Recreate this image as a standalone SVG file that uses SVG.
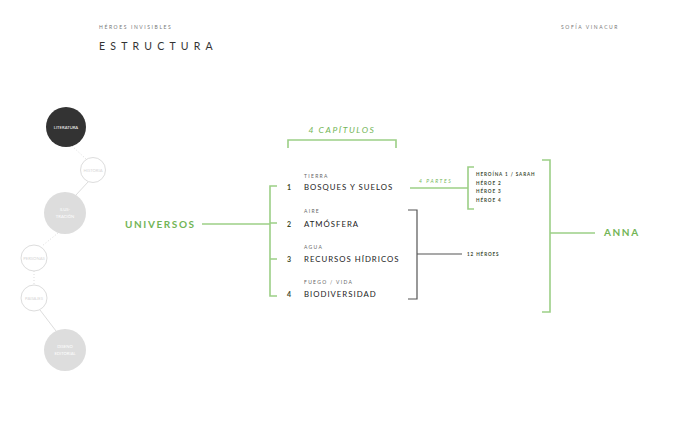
<svg xmlns="http://www.w3.org/2000/svg" width="680" height="425" viewBox="0 0 680 425">
<style>
text{font-family:Lato,"Liberation Sans",sans-serif}
.hd{font-size:5px;letter-spacing:1.6px;fill:#777}
.title{font-size:10.5px;letter-spacing:5.2px;fill:#333}
.g{stroke:#9ccf86;stroke-width:1.6;fill:none}
.d{stroke:#555;stroke-width:1.2;fill:none}
.gt{fill:#72b556;letter-spacing:1.6px}
.sub{font-size:5px;letter-spacing:1.3px;fill:#666}
.main{font-size:7.8px;letter-spacing:1px;fill:#222}
.num{font-size:7px;font-weight:bold;fill:#3e4a28}
.hero{font-size:4.6px;letter-spacing:0.9px;fill:#3b4a32;font-weight:bold}
.ct{font-size:4.2px;fill:#fff;text-anchor:middle}
.co{font-size:4.2px;fill:#d6d6d6;text-anchor:middle}
.cl{stroke:#ddd;stroke-width:1;fill:none}
.cd{stroke:#ddd;stroke-width:1;stroke-dasharray:1 2;fill:none}
</style>
<rect width="680" height="425" fill="#fff"/>
<g id="header">
<text class="hd" x="99" y="29">HÉROES INVISIBLES</text>
<text class="title" x="99" y="50">ESTRUCTURA</text>
<text class="hd" x="561" y="29">SOFÍA VINACUR</text>
</g>
<g id="side-connectors">
<line class="cd" x1="72" y1="146" x2="86" y2="159"/>
<line class="cl" x1="88" y1="182" x2="76" y2="195"/>
<line class="cd" x1="58" y1="233" x2="42" y2="246"/>
<line class="cd" x1="34" y1="271" x2="34" y2="285"/>
<line class="cl" x1="40" y1="310" x2="56" y2="331"/>
</g>
<g id="literatura"><circle cx="66" cy="127" r="20" fill="#333"/><text class="ct" x="66" y="129">LITERATURA</text></g>
<g id="historia"><circle cx="93" cy="170" r="12.5" fill="#fff" stroke="#ddd"/><text class="co" x="93" y="172">HISTORIA</text></g>
<g id="ilustracion"><circle cx="65" cy="213" r="21" fill="#ddd"/><text class="ct" x="65" y="211">ILUS-</text><text class="ct" x="65" y="218">TRACIÓN</text></g>
<g id="personas"><circle cx="34" cy="258" r="13" fill="#fff" stroke="#ddd"/><text class="co" x="34" y="260">PERSONAS</text></g>
<g id="paisajes"><circle cx="34" cy="298" r="13" fill="#fff" stroke="#ddd"/><text class="co" x="34" y="300">PAISAJES</text></g>
<g id="diseno"><circle cx="65" cy="350" r="21" fill="#ddd"/><text class="ct" x="65" y="348">DISEÑO</text><text class="ct" x="65" y="355">EDITORIAL</text></g>
<g id="connectors">
<path class="g" d="M288 148V140H396V148"/>
<line class="g" x1="202" y1="224" x2="270" y2="224"/>
<path class="g" d="M277 186H270V296H277M270 223H277M270 259H277"/>
<line class="g" x1="410" y1="188" x2="468" y2="188"/>
<path class="g" d="M474 167H468V209H474"/>
<path class="d" d="M408 210H417V299H408M417 254H462"/>
<path class="g" d="M542 160H550V312H542M550 233H595"/>
</g>
<g id="capitulos"><text class="gt" x="342" y="133" font-size="8.5" font-style="italic" text-anchor="middle">4 CAPÍTULOS</text></g>
<g id="universos"><text class="gt" x="125" y="228" font-size="10" font-weight="bold" letter-spacing="1.1">UNIVERSOS</text></g>
<g id="ch1"><text class="sub" x="304" y="178">TIERRA</text><text class="num" x="287" y="190" fill="#333">1</text><text class="main" x="304" y="190">BOSQUES Y SUELOS</text></g>
<g id="ch2"><text class="sub" x="304" y="213">AIRE</text><text class="num" x="287" y="227">2</text><text class="main" x="304" y="227">ATMÓSFERA</text></g>
<g id="ch3"><text class="sub" x="304" y="249">AGUA</text><text class="num" x="287" y="262">3</text><text class="main" x="304" y="262">RECURSOS HÍDRICOS</text></g>
<g id="ch4"><text class="sub" x="304" y="284">FUEGO / VIDA</text><text class="num" x="287" y="297">4</text><text class="main" x="304" y="297">BIODIVERSIDAD</text></g>
<g id="partes"><text class="gt" x="419" y="183" font-size="5" font-style="italic" letter-spacing="1.2">4 PARTES</text></g>
<g id="heroes">
<text class="hero" x="476" y="176">HEROÍNA 1 / SARAH</text>
<text class="hero" x="476" y="185">HÉROE 2</text>
<text class="hero" x="476" y="193">HÉROE 3</text>
<text class="hero" x="476" y="202">HÉROE 4</text>
</g>
<g id="doce"><text class="hero" x="467" y="256" font-weight="normal" font-size="4.2">12 HÉROES</text></g>
<g id="anna"><text class="gt" x="604" y="236" font-size="10" font-weight="bold">ANNA</text></g>
</svg>
